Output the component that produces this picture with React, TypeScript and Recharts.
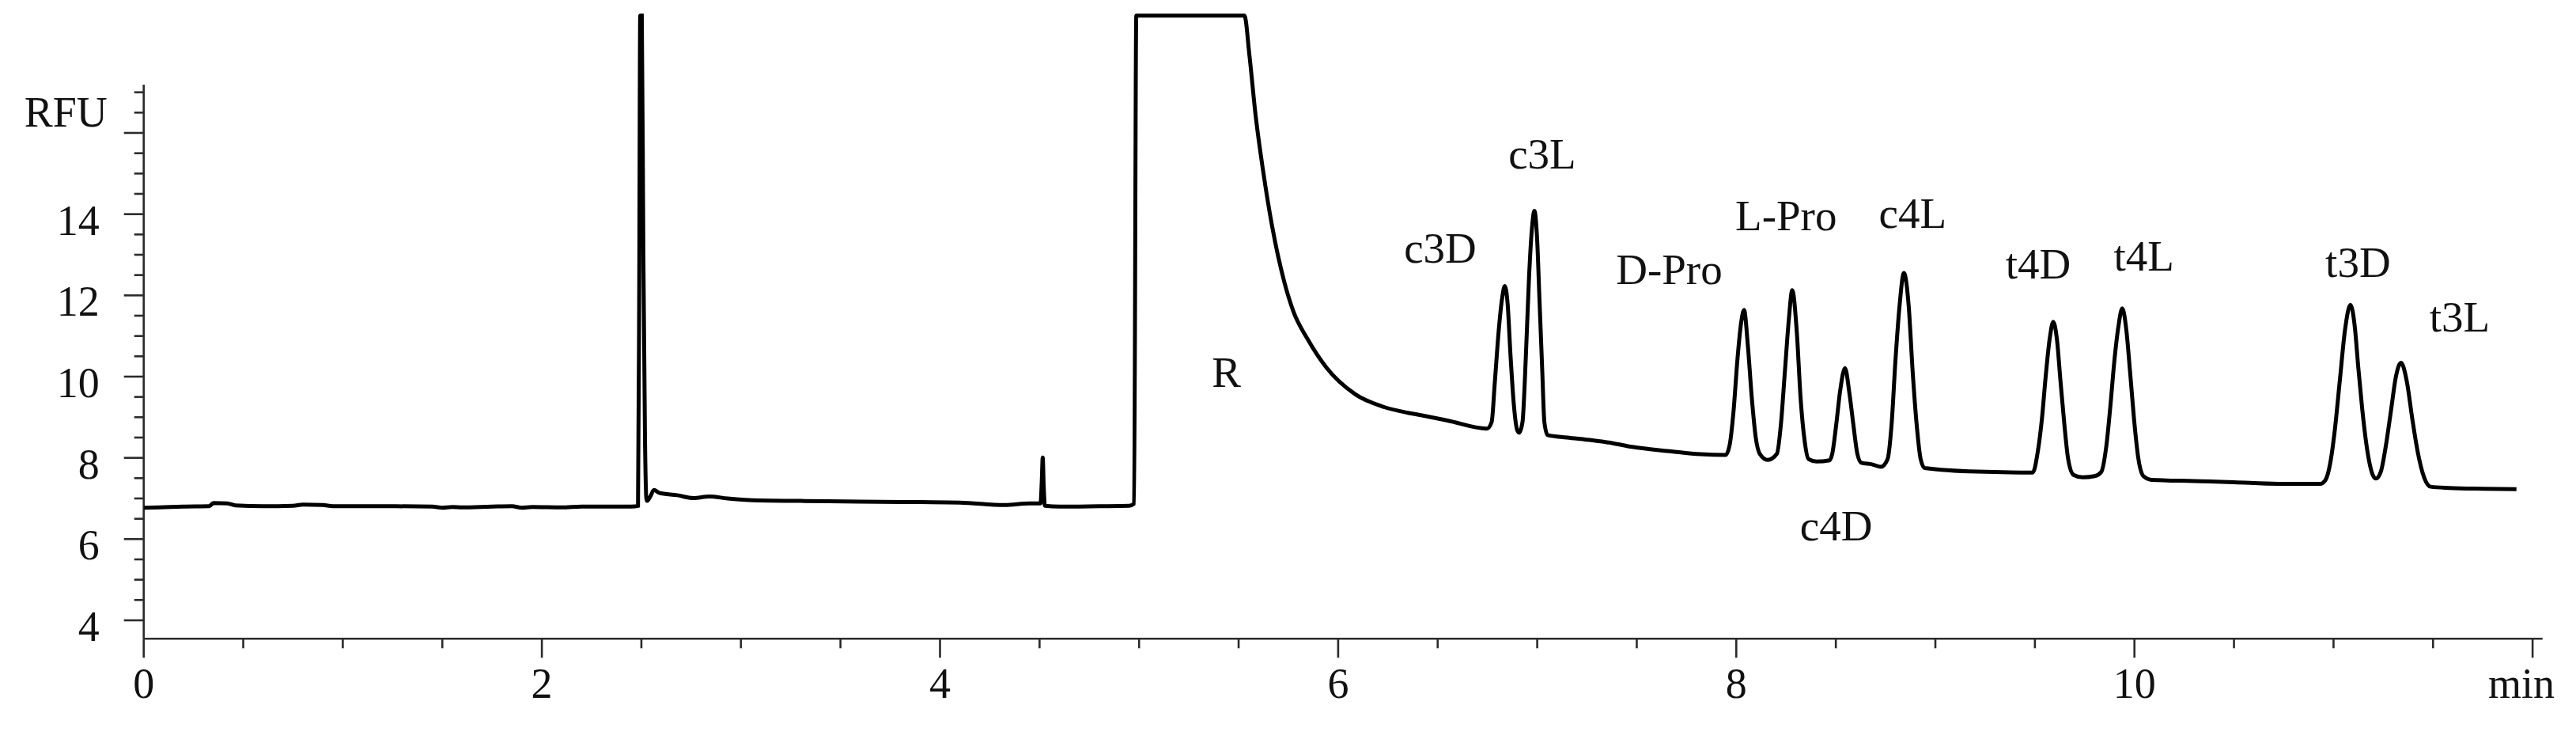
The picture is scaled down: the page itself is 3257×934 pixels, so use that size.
import { ComposedChart, Line, Scatter, XAxis, YAxis, ReferenceLine } from 'recharts';

const FONT = '"Liberation Serif", "Times New Roman", serif';
const AXIS = '#2b2b2b';

// trace pieces, [time in min, signal in RFU]
const earlyBaseline: [number, number][] = [
  [0, 6.77], [0.08, 6.78], [0.2, 6.8], [0.33, 6.81], [0.35, 6.89], [0.42, 6.88],
  [0.46, 6.83], [0.6, 6.81], [0.75, 6.82], [0.8, 6.85], [0.9, 6.84], [0.95, 6.81],
  [1.2, 6.81], [1.45, 6.8], [1.5, 6.77], [1.55, 6.79], [1.6, 6.78], [1.75, 6.8],
  [1.85, 6.81], [1.9, 6.77], [1.95, 6.79], [2.1, 6.78], [2.2, 6.8], [2.45, 6.8],
  [2.483, 6.82],
];

const solventFront: [number, number][] = [
  [2.489, 12.0], [2.494, 18.89], [2.502, 18.89], [2.51, 13.0], [2.518, 8.5],
  [2.525, 7.0], [2.529, 6.94], [2.545, 7.05], [2.563, 7.21], [2.589, 7.14],
  [2.68, 7.08], [2.761, 7.01], [2.841, 7.05], [2.933, 7.0], [3.092, 6.95],
  [3.3, 6.94], [3.6, 6.92], [3.9, 6.91], [4.1, 6.9], [4.324, 6.84], [4.45, 6.88],
  [4.505, 6.88], [4.511, 7.4], [4.516, 8.01], [4.521, 7.3], [4.527, 6.82],
  [4.6, 6.8], [4.8, 6.81], [4.95, 6.82], [4.975, 6.87],
];

const reagentPeak: [number, number][] = [
  [4.986, 18.89], [5.529, 18.89], [5.555, 17.88], [5.584, 16.49], [5.622, 15.1],
  [5.668, 13.71], [5.73, 12.32], [5.774, 11.62], [5.847, 10.92], [5.94, 10.23],
  [6.085, 9.57], [6.231, 9.25], [6.35, 9.11], [6.416, 9.05], [6.549, 8.92],
  [6.747, 8.72],
];

const c3Peaks: [number, number][] = [
  [6.771, 8.88], [6.787, 9.86], [6.807, 11.16], [6.824, 11.94], [6.837, 12.23],
  [6.851, 11.81], [6.866, 10.51], [6.882, 9.34], [6.899, 8.69], [6.909, 8.62],
  [6.926, 8.88], [6.943, 10.51], [6.959, 12.46], [6.973, 13.62], [6.986, 14.08],
  [6.999, 13.43], [7.012, 11.81], [7.025, 10.18], [7.036, 8.88], [7.052, 8.56],
  [7.15, 8.5], [7.277, 8.43], [7.38, 8.36], [7.476, 8.27], [7.674, 8.16],
  [7.82, 8.09], [7.946, 8.07],
];

const proAndC4Peaks: [number, number][] = [
  [7.966, 8.3], [7.986, 9.14], [8.006, 10.44], [8.025, 11.35], [8.039, 11.64],
  [8.058, 10.77], [8.078, 9.47], [8.098, 8.49], [8.118, 8.1], [8.158, 7.95],
  [8.204, 8.1], [8.224, 8.82], [8.244, 10.12], [8.264, 11.41], [8.281, 12.13],
  [8.304, 11.09], [8.323, 9.47], [8.343, 8.43], [8.363, 7.97], [8.403, 7.91],
  [8.469, 7.94], [8.482, 8.1], [8.502, 8.82], [8.522, 9.66], [8.546, 10.21],
  [8.568, 9.6], [8.588, 8.82], [8.608, 8.1], [8.628, 7.88], [8.681, 7.84],
  [8.727, 7.78], [8.76, 7.97], [8.78, 8.82], [8.8, 10.44], [8.82, 11.74],
  [8.842, 12.55], [8.866, 11.74], [8.886, 10.12], [8.906, 8.82], [8.926, 7.97],
  [8.946, 7.75], [9.211, 7.66], [9.489, 7.64],
];

const t4Peaks: [number, number][] = [
  [9.515, 8.17], [9.535, 8.95], [9.555, 10.05], [9.575, 10.96], [9.592, 11.35],
  [9.611, 10.9], [9.628, 9.92], [9.648, 8.82], [9.667, 7.97], [9.694, 7.58],
  [9.74, 7.52], [9.8, 7.55], [9.833, 7.65], [9.859, 8.3], [9.879, 9.27],
  [9.899, 10.38], [9.919, 11.22], [9.939, 11.68], [9.959, 11.16], [9.978, 10.12],
  [9.998, 8.95], [10.018, 8.04], [10.045, 7.55], [10.085, 7.46], [10.3, 7.43],
  [10.5, 7.4], [10.72, 7.36], [10.932, 7.36],
];

const t3Peaks: [number, number][] = [
  [10.959, 7.45], [10.985, 7.91], [11.005, 8.62], [11.032, 9.92], [11.058, 11.16],
  [11.085, 11.77], [11.107, 11.22], [11.124, 10.25], [11.144, 9.21], [11.17, 8.17],
  [11.197, 7.58], [11.213, 7.49], [11.237, 7.65], [11.263, 8.3], [11.29, 9.21],
  [11.313, 9.99], [11.339, 10.34], [11.369, 9.86], [11.396, 8.95], [11.422, 8.17],
  [11.455, 7.52], [11.488, 7.29], [11.581, 7.26], [11.75, 7.24], [11.919, 7.23],
];

const minuteTicks = [
  0, 0.5, 1, 1.5, 2, 2.5, 3, 3.5, 4, 4.5, 5, 5.5, 6, 6.5, 7, 7.5, 8, 8.5, 9, 9.5,
  10, 10.5, 11, 11.5, 12,
];
const rfuTicks = [
  4, 4.5, 5, 5.5, 6, 6.5, 7, 7.5, 8, 8.5, 9, 9.5, 10, 10.5, 11, 11.5, 12, 12.5,
  13, 13.5, 14, 14.5, 15, 15.5, 16, 16.5, 17,
];

// peak names and where their text sits (time, RFU of the text baseline)
const peakLabels = [
  { name: 'R', t: 5.439, v: 9.74 },
  { name: 'c3D', t: 6.513, v: 12.81 },
  { name: 'c3L', t: 7.025, v: 15.12 },
  { name: 'D-Pro', t: 7.663, v: 12.27 },
  { name: 'L-Pro', t: 8.25, v: 13.61 },
  { name: 'c4D', t: 8.502, v: 5.96 },
  { name: 'c4L', t: 8.886, v: 13.66 },
  { name: 't4D', t: 9.516, v: 12.42 },
  { name: 't4L', t: 10.048, v: 12.62 },
  { name: 't3D', t: 11.123, v: 12.46 },
  { name: 't3L', t: 11.634, v: 11.12 },
];

const trace = [
  ...earlyBaseline, ...solventFront, ...reagentPeak, ...c3Peaks,
  ...proAndC4Peaks, ...t4Peaks, ...t3Peaks,
].map(([t, v]) => ({ t, v }));

const XTick = ({ x, y, payload }: any) => {
  const v = payload.value;
  const major = v % 2 === 0;
  return (
    <g>
      <line x1={x} y1={y} x2={x} y2={y + (major ? 24 : 12)} stroke={AXIS} strokeWidth={2.6} />
      {major && (
        <text x={v === 12 ? x - 14 : x} y={y + 75} textAnchor="middle" fontFamily={FONT} fontSize={54} fill="#111">
          {v === 12 ? 'min' : v}
        </text>
      )}
    </g>
  );
};

const YTick = ({ x, y, payload }: any) => {
  const v = payload.value;
  const major = v % 2 === 0;
  return (
    <g>
      <line x1={x} y1={y} x2={x - (major ? 25 : 12)} y2={y} stroke={AXIS} strokeWidth={2.6} />
      {major && v <= 14 && (
        <text x={x - 56} y={y + 26} textAnchor="end" fontFamily={FONT} fontSize={54} fill="#111">
          {v}
        </text>
      )}
      {v === 16 && (
        <text x={x - 46} y={y - 8} textAnchor="end" fontFamily={FONT} fontSize={54} fill="#111">
          RFU
        </text>
      )}
    </g>
  );
};

const PeakLabel = ({ cx, cy, payload }: any) => (
  <text x={cx} y={cy} textAnchor="middle" fontFamily={FONT} fontSize={55} fill="#111">
    {payload.name}
  </text>
);

export default function App() {
  return (
    <div style={{ position: 'absolute', left: 0, top: 0, width: 3257, height: 934, background: '#fff' }}>
      <ComposedChart width={3257} height={934} margin={{ top: 14, right: 42.3, bottom: 46.7, left: 81.7 }}>
        <XAxis
          type="number"
          dataKey="t"
          domain={[0, 12.05]}
          allowDataOverflow
          ticks={minuteTicks}
          interval={0}
          height={80}
          tickSize={0}
          tickMargin={0}
          tickLine={false}
          axisLine={{ stroke: AXIS, strokeWidth: 2.6 }}
          tick={<XTick />}
        />
        <YAxis
          type="number"
          dataKey="v"
          domain={[3.546, 19]}
          allowDataOverflow
          ticks={rfuTicks}
          interval={0}
          width={100}
          tickSize={0}
          tickMargin={0}
          tickLine={false}
          axisLine={false}
          tick={<YTick />}
        />
        <ReferenceLine
          segment={[{ x: 0, y: 3.546 }, { x: 0, y: 17.19 }]}
          stroke={AXIS}
          strokeWidth={2.6}
          ifOverflow="visible"
        />
        <Line
          data={trace}
          dataKey="v"
          type="monotone"
          stroke="#000"
          strokeWidth={5}
          dot={false}
          activeDot={false}
          isAnimationActive={false}
        />
        <Scatter data={peakLabels} dataKey="v" shape={<PeakLabel />} isAnimationActive={false} />
      </ComposedChart>
    </div>
  );
}
